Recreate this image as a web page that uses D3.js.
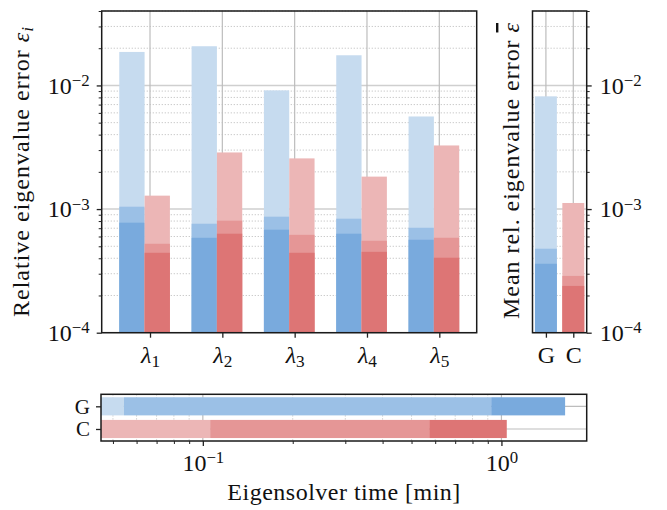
<!DOCTYPE html>
<html><head><meta charset="utf-8">
<script src="https://cdn.jsdelivr.net/npm/d3@7"></script>
<style>body{margin:0;background:#fff} text{font-family:'Liberation Serif','Times New Roman',serif}</style>
</head><body>
<script>
// ---------- data ----------
const eigLabels = ["1","2","3","4","5"];
const gLight = [0.01866, 0.02075, 0.00912, 0.01754, 0.00561];
const gMed   = [1.045e-3, 7.61e-4, 8.68e-4, 8.36e-4, 7.06e-4];
const gDark  = [7.76e-4, 5.86e-4, 6.81e-4, 6.32e-4, 5.65e-4];
const cLight = [1.284e-3, 2.87e-3, 2.57e-3, 1.83e-3, 3.27e-3];
const cMed   = [5.24e-4, 8.06e-4, 6.19e-4, 5.54e-4, 5.86e-4];
const cDark  = [4.43e-4, 6.32e-4, 4.43e-4, 4.51e-4, 4.04e-4];
const methods = ["G","C"];
const meanLight = [8.16e-3, 1.12e-3];
const meanMed   = [4.78e-4, 2.88e-4];
const meanDark  = [3.61e-4, 2.39e-4];
const timeLight = [0.0544, 0.1058];
const timeMed   = [0.924, 0.573];
const timeDark  = [1.634, 1.042];
const errTicks = [1e-4, 1e-3, 1e-2];
const errTickExp = ["\u22124", "\u22123", "\u22122"];
const timeTicks = [0.1, 1];
const timeTickExp = ["\u22121", "0"];

// ---------- style ----------
const blue = ["#c6dbef", "#9bc0e6", "#79aadd"];
const red  = ["#ecb6b6", "#e59696", "#dd7575"];
const FONT = "'Liberation Serif','Times New Roman',serif";
const FS = 24;
const gridCol = "#c4c4c4";

const svg = d3.select("body").append("svg").attr("width", 667).attr("height", 510)
  .style("font-family", FONT);

function minorLog(d0, d1) {
  const out = [];
  for (let e = Math.floor(Math.log10(d0)); e <= Math.ceil(Math.log10(d1)); e++)
    for (let m = 2; m <= 9; m++) { const v = m * Math.pow(10, e); if (v >= d0 && v <= d1) out.push(v); }
  return out;
}
function supText(sel, exps) {
  sel.selectAll(".tick text").each(function (d, i) {
    const t = d3.select(this); t.text(null);
    t.append("tspan").text("10");
    t.append("tspan").attr("dy", "-0.45em").attr("font-size", "0.7em").text(exps[i]);
  });
}
function styleAxis(g, fs) {
  g.attr("font-family", null);
  g.select(".domain").remove();
  g.selectAll(".tick line").attr("stroke", "#222").attr("stroke-width", 1.3);
  g.selectAll("text").style("font-family", FONT).attr("font-size", fs || FS).attr("fill", "#111");
}

// ---------- main panel ----------
const M = {x0: 101.7, x1: 476.7, y0: 11, y1: 332.7};
const yErr = d3.scaleLog().domain([1e-4, 4e-2]).range([M.y1, M.y0]);
const xMain = d3.scaleLinear().domain([-0.668, 4.517]).range([M.x0, M.x1]);
const BW = 0.35;

const gm = svg.append("g");
gm.selectAll(".mg").data(minorLog(1e-4, 4e-2)).join("line")
  .attr("x1", M.x0).attr("x2", M.x1).attr("y1", d => yErr(d)).attr("y2", d => yErr(d))
  .attr("stroke", gridCol).attr("stroke-width", 1).attr("stroke-dasharray", "1.2,1.8");
gm.selectAll(".Mg").data(errTicks).join("line")
  .attr("x1", M.x0).attr("x2", M.x1).attr("y1", d => yErr(d)).attr("y2", d => yErr(d))
  .attr("stroke", "#cfcfcf").attr("stroke-width", 1.4);
gm.selectAll(".vg").data(eigLabels).join("line")
  .attr("x1", (d, i) => xMain(i)).attr("x2", (d, i) => xMain(i)).attr("y1", M.y0).attr("y2", M.y1)
  .attr("stroke", "#bdbdbd").attr("stroke-width", 1.2);

function barsV(g, xs, vals, off, w, col) {
  g.selectAll(null).data(vals).join("rect")
    .attr("x", (d, i) => xs(i + off - w / 2)).attr("width", (d, i) => xs(i + off + w / 2) - xs(i + off - w / 2))
    .attr("y", d => yErr(d)).attr("height", d => yErr.range()[0] - yErr(d)).attr("fill", col);
}
barsV(gm, xMain, gLight, -0.25, BW, blue[0]);
barsV(gm, xMain, gMed, -0.25, BW, blue[1]);
barsV(gm, xMain, gDark, -0.25, BW, blue[2]);
barsV(gm, xMain, cLight, 0.1, BW, red[0]);
barsV(gm, xMain, cMed, 0.1, BW, red[1]);
barsV(gm, xMain, cDark, 0.1, BW, red[2]);

gm.append("rect").attr("x", M.x0).attr("y", M.y0).attr("width", M.x1 - M.x0).attr("height", M.y1 - M.y0)
  .attr("fill", "none").attr("stroke", "#1a1a1a").attr("stroke-width", 1.5);

const ayMain = gm.append("g").attr("transform", `translate(${M.x0},0)`)
  .call(d3.axisLeft(yErr).tickValues(errTicks).tickSize(5).tickPadding(7).tickSizeOuter(0));
styleAxis(ayMain); supText(ayMain, errTickExp);
const ayMainMinor = gm.append("g").attr("transform", `translate(${M.x0},0)`)
  .call(d3.axisLeft(yErr).tickValues(minorLog(1e-4, 4e-2)).tickSize(3).tickFormat("").tickSizeOuter(0));
ayMainMinor.select(".domain").remove();
ayMainMinor.selectAll(".tick line").attr("stroke", "#222").attr("stroke-width", 1);

const axMain = gm.append("g").attr("transform", `translate(0,${M.y1})`)
  .call(d3.axisBottom(xMain).tickValues(d3.range(eigLabels.length)).tickSize(5).tickPadding(8).tickSizeOuter(0));
styleAxis(axMain);
axMain.selectAll(".tick text").each(function (d, i) {
  const t = d3.select(this); t.text(null);
  t.append("tspan").attr("font-style", "italic").text("\u03BB");
  t.append("tspan").attr("dy", "0.22em").attr("font-size", "0.72em").text(eigLabels[i]);
});

const tl = svg.append("text").attr("transform", "translate(29,172) rotate(-90)")
  .attr("text-anchor", "middle").attr("font-size", FS).attr("fill", "#111")
  .attr("textLength", 290).attr("lengthAdjust", "spacing");
tl.append("tspan").text("Relative eigenvalue error ");
tl.append("tspan").attr("font-style", "italic").text("\u03B5");
tl.append("tspan").attr("dy", "0.22em").attr("font-size", "0.72em").attr("font-style", "italic").text("i");

// ---------- mean panel ----------
const P = {x0: 532.5, x1: 586.7};
const xMean = d3.scaleLinear().domain([-0.49, 1.49]).range([P.x0, P.x1]);
const gp = svg.append("g");
gp.selectAll(null).data(minorLog(1e-4, 4e-2)).join("line")
  .attr("x1", P.x0).attr("x2", P.x1).attr("y1", d => yErr(d)).attr("y2", d => yErr(d))
  .attr("stroke", gridCol).attr("stroke-width", 1).attr("stroke-dasharray", "1.2,1.8");
gp.selectAll(null).data(errTicks).join("line")
  .attr("x1", P.x0).attr("x2", P.x1).attr("y1", d => yErr(d)).attr("y2", d => yErr(d))
  .attr("stroke", "#cfcfcf").attr("stroke-width", 1.4);
gp.selectAll(null).data(methods).join("line")
  .attr("x1", (d, i) => xMean(i)).attr("x2", (d, i) => xMean(i)).attr("y1", M.y0).attr("y2", M.y1)
  .attr("stroke", "#bdbdbd").attr("stroke-width", 1.2);
[meanLight, meanMed, meanDark].forEach((arr, k) => {
  gp.selectAll(null).data(arr).join("rect")
    .attr("x", (d, i) => xMean(i - 0.4)).attr("width", xMean(0.4) - xMean(-0.4))
    .attr("y", d => yErr(d)).attr("height", d => M.y1 - yErr(d))
    .attr("fill", (d, i) => (i === 0 ? blue : red)[k]);
});
gp.append("rect").attr("x", P.x0).attr("y", M.y0).attr("width", P.x1 - P.x0).attr("height", M.y1 - M.y0)
  .attr("fill", "none").attr("stroke", "#1a1a1a").attr("stroke-width", 1.5);
const ayMean = gp.append("g").attr("transform", `translate(${P.x1},0)`)
  .call(d3.axisRight(yErr).tickValues(errTicks).tickSize(5).tickPadding(8).tickSizeOuter(0));
styleAxis(ayMean); supText(ayMean, errTickExp);
const ayMeanMinor = gp.append("g").attr("transform", `translate(${P.x1},0)`)
  .call(d3.axisRight(yErr).tickValues(minorLog(1e-4, 4e-2)).tickSize(3).tickFormat("").tickSizeOuter(0));
ayMeanMinor.select(".domain").remove();
ayMeanMinor.selectAll(".tick line").attr("stroke", "#222").attr("stroke-width", 1);
const axMean = gp.append("g").attr("transform", `translate(0,${M.y1})`)
  .call(d3.axisBottom(xMean).tickValues([0, 1]).tickFormat((d, i) => methods[i]).tickSize(5).tickPadding(8).tickSizeOuter(0));
styleAxis(axMean);
const tm = svg.append("text").attr("transform", "translate(519,171) rotate(-90)")
  .attr("text-anchor", "middle").attr("font-size", FS).attr("fill", "#111")
  .attr("textLength", 296).attr("lengthAdjust", "spacing");
tm.append("tspan").text("Mean rel. eigenvalue error ");
tm.append("tspan").attr("font-style", "italic").style("text-decoration", "overline").text("\u03B5");

// ---------- time panel ----------
const T = {x0: 101, x1: 586.7, y0: 394.3, y1: 441};
const xTime = d3.scaleLog().domain([0.0456, 1.93]).range([T.x0, T.x1]);
const yTime = d3.scaleLinear().domain([-0.53, 1.53]).range([T.y0, T.y1]);
const gt = svg.append("g");
gt.selectAll(null).data(minorLog(0.0456, 1.93)).join("line")
  .attr("x1", d => xTime(d)).attr("x2", d => xTime(d)).attr("y1", T.y0).attr("y2", T.y1)
  .attr("stroke", gridCol).attr("stroke-width", 1).attr("stroke-dasharray", "1.2,1.8");
gt.selectAll(null).data(timeTicks).join("line")
  .attr("x1", d => xTime(d)).attr("x2", d => xTime(d)).attr("y1", T.y0).attr("y2", T.y1)
  .attr("stroke", "#bdbdbd").attr("stroke-width", 1.2);
gt.selectAll(null).data(methods).join("line")
  .attr("x1", T.x0).attr("x2", T.x1).attr("y1", (d, i) => yTime(i)).attr("y2", (d, i) => yTime(i))
  .attr("stroke", "#bdbdbd").attr("stroke-width", 1.2);
methods.forEach((m, i) => {
  const bounds = [xTime.domain()[0], timeLight[i], timeMed[i], timeDark[i]];
  const cols = i === 0 ? blue : red;
  for (let k = 0; k < 3; k++) {
    gt.append("rect").attr("x", xTime(bounds[k])).attr("width", xTime(bounds[k + 1]) - xTime(bounds[k]))
      .attr("y", yTime(i - 0.4)).attr("height", yTime(i + 0.4) - yTime(i - 0.4)).attr("fill", cols[k]);
  }
});
gt.append("rect").attr("x", T.x0).attr("y", T.y0).attr("width", T.x1 - T.x0).attr("height", T.y1 - T.y0)
  .attr("fill", "none").attr("stroke", "#1a1a1a").attr("stroke-width", 1.5);
const axTime = gt.append("g").attr("transform", `translate(0,${T.y1})`)
  .call(d3.axisBottom(xTime).tickValues(timeTicks).tickSize(5).tickPadding(6).tickSizeOuter(0));
styleAxis(axTime); supText(axTime, timeTickExp);
axTime.selectAll(".tick text").attr("dy", "0.78em");
const axTimeMinor = gt.append("g").attr("transform", `translate(0,${T.y1})`)
  .call(d3.axisBottom(xTime).tickValues(minorLog(0.0456, 1.93)).tickSize(3).tickFormat("").tickSizeOuter(0));
axTimeMinor.select(".domain").remove();
axTimeMinor.selectAll(".tick line").attr("stroke", "#222").attr("stroke-width", 1);
const ayTime = gt.append("g").attr("transform", `translate(${T.x0},0)`)
  .call(d3.axisLeft(yTime).tickValues([0, 1]).tickFormat((d, i) => methods[i]).tickSize(5).tickPadding(6).tickSizeOuter(0));
styleAxis(ayTime, 21);
svg.append("text").attr("x", (T.x0 + T.x1) / 2).attr("y", 500).attr("text-anchor", "middle")
  .attr("font-size", FS).attr("fill", "#111").attr("textLength", 233).attr("lengthAdjust", "spacing")
  .text("Eigensolver time [min]");
</script>
</body></html>
